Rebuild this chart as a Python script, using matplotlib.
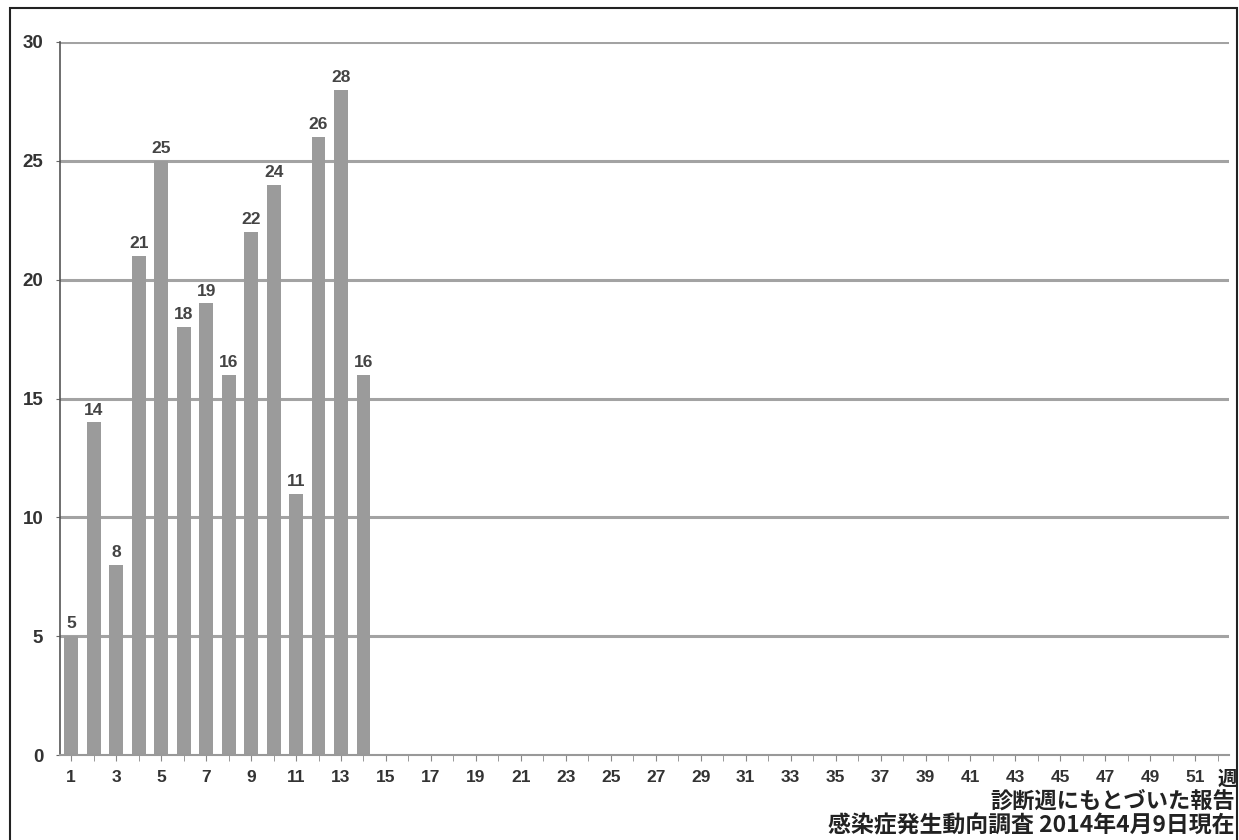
import matplotlib
matplotlib.use("Agg")
import matplotlib.pyplot as plt
from matplotlib.patches import Rectangle

plt.rcParams['font.family'] = ['Liberation Sans', 'Noto Sans CJK JP', 'DejaVu Sans']

weeks = list(range(1, 15))
counts = [5, 14, 8, 21, 25, 18, 19, 16, 22, 24, 11, 26, 28, 16]
xtick_labels = [str(w) for w in range(1, 52, 2)]
yticks = [0, 5, 10, 15, 20, 25, 30]
unit_label = "週"
note1 = "診断週にもとづいた報告"
note2 = "感染症発生動向調査 2014年4月9日現在"

fig = plt.figure(figsize=(12.39, 8.4), dpi=100)
ax = fig.add_axes([60/1239, 1 - 755/840, (1229-60)/1239, (755-42)/840])

bar_color = "#9b9b9b"
grid_color = "#a3a3a3"

for y in yticks[1:]:
    ax.axhline(y, color=grid_color, lw=2.2, zorder=1)

ax.bar(weeks, counts, width=0.62, color=bar_color, zorder=2)
for w, c in zip(weeks, counts):
    ax.text(w, c + 0.2, str(c), ha="center", va="bottom", fontsize=12.5,
            fontweight="bold", color="#444444", zorder=3)

ax.set_xlim(0.5, 52.5)
ax.set_ylim(0, 30)
ax.set_yticks(yticks)
ax.set_yticklabels([str(v) for v in yticks], fontsize=13.5, fontweight="bold", color="#333333")
ax.set_xticks(range(1, 53), minor=True)
ax.set_xticks(range(1, 52, 2))
ax.set_xticklabels(xtick_labels, fontsize=12.5, fontweight="bold", color="#333333")
ax.tick_params(axis="x", which="both", length=4, color="#888888", pad=7)
ax.tick_params(axis="y", length=3, color="#666666", pad=9)

for s in ["top", "right"]:
    ax.spines[s].set_visible(False)
ax.spines["left"].set_color("#555555")
ax.spines["left"].set_linewidth(1.2)
ax.spines["bottom"].set_color("#999999")
ax.spines["bottom"].set_linewidth(1.5)

fig.text(1218/1239, 1 - 779/840, unit_label, ha="left", va="center", fontsize=14,
         fontweight="bold", color="#222222", family=['Noto Sans CJK JP'])
fig.text(1235/1239, 1 - 801/840, note1, ha="right", va="center", fontsize=16,
         fontweight="bold", color="#222222", family=['Noto Sans CJK JP'])
fig.text(1235/1239, 1 - 826/840, note2, ha="right", va="center", fontsize=16.5,
         fontweight="bold", color="#222222", family=['Noto Sans CJK JP'])

fig.patches.append(Rectangle((10/1239, -0.01), (1237-10)/1239, 1 - 8/840 + 0.01,
                             transform=fig.transFigure, fill=False,
                             edgecolor="#222222", lw=1.5))

fig.savefig("out.png", dpi=100)
